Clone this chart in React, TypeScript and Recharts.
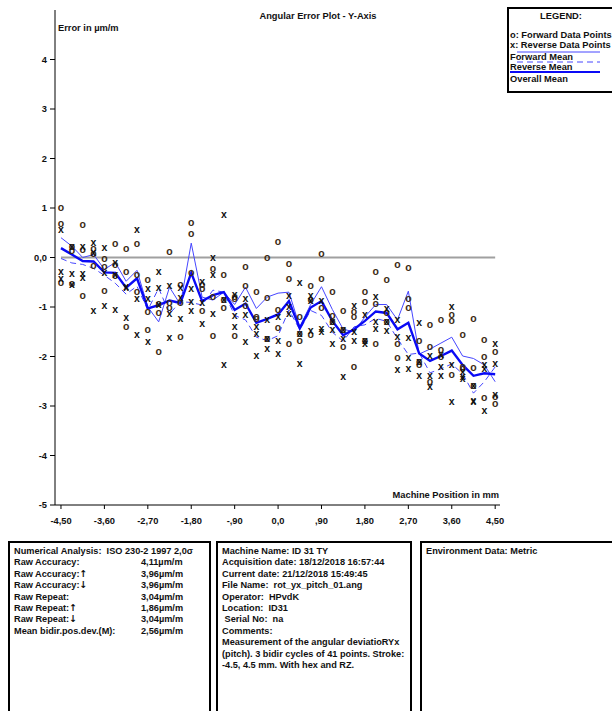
import { ComposedChart, Line, Scatter, XAxis, YAxis, ReferenceLine } from 'recharts';

// machine positions in mm (41 targets)
const positions = [
  -4.5, -4.275, -4.05, -3.825, -3.6, -3.375, -3.15, -2.925, -2.7, -2.475, -2.25,
  -2.025, -1.8, -1.575, -1.35, -1.125, -0.9, -0.675, -0.45, -0.225, 0,
  0.225, 0.45, 0.675, 0.9, 1.125, 1.35, 1.575, 1.8, 2.025, 2.25,
  2.475, 2.7, 2.925, 3.15, 3.375, 3.6, 3.825, 4.05, 4.275, 4.5,
];

// forward runs (o)
const fwdRun1 = [1.02, 0.22, 0.67, 0.18, -0.03, 0.28, 0.18, 0.29, -0.44, -0.92, 0.12, -0.55, 0.70, -0.55, -0.23, -0.35, -0.78, -0.18, -0.69, 0.00, 0.32, -0.12, -1.20, -0.56, 0.09, -0.68, -1.08, -1.09, -0.69, -0.29, -0.45, -0.15, -0.20, -1.67, -1.35, -1.26, -1.16, -1.55, -1.23, -1.65, -1.90];
const fwdRun2 = [0.69, 0.15, 0.17, 0.08, -0.18, -0.15, -0.29, -0.35, -1.10, -1.12, -0.90, -0.91, 0.48, -0.62, -0.78, -0.85, -0.82, -0.57, -1.20, -0.81, -1.06, -0.42, -1.53, -0.84, -0.42, -1.17, -1.45, -1.19, -0.88, -0.93, -1.12, -1.73, -0.82, -2.10, -1.80, -1.86, -1.27, -2.20, -2.22, -2.00, -2.80];
const fwdRun3 = [-0.50, -0.52, -0.76, -0.17, -0.67, -0.36, -1.40, -0.69, -1.46, -1.90, -1.00, -1.60, -0.31, -1.08, -1.57, -1.00, -1.57, -0.96, -1.24, -1.63, -1.42, -1.73, -1.67, -1.55, -1.00, -1.30, -1.80, -2.20, -1.67, -1.73, -1.30, -2.03, -1.00, -2.17, -2.51, -2.00, -2.37, -2.25, -2.59, -2.83, -2.95];

// reverse runs (x)
const revRun1 = [0.57, 0.22, 0.22, 0.31, 0.21, -0.10, -0.58, 0.57, -0.62, -0.29, -0.57, -0.60, -0.62, -0.49, 0.00, 0.87, -0.74, -0.82, -1.40, -1.25, -1.20, -0.77, -0.50, -0.76, -0.86, -1.30, -1.45, -0.96, -1.15, -0.79, -1.03, -1.25, -1.61, -1.31, -1.97, -1.95, -0.99, -2.31, -2.59, -2.17, -1.74];
const revRun2 = [-0.29, -0.33, -0.33, 0.10, -0.31, -0.35, -0.60, -0.82, -0.83, -0.61, -1.13, -0.80, -0.89, -0.90, -0.35, -0.85, -1.17, -1.16, -1.53, -1.63, -1.67, -0.99, -1.53, -0.86, -1.43, -1.46, -1.63, -1.50, -1.67, -1.30, -1.30, -1.60, -2.02, -2.10, -2.39, -2.20, -2.17, -2.41, -2.88, -2.25, -2.14];
const revRun3 = [-0.42, -0.55, -0.40, -1.08, -0.96, -1.06, -1.21, -1.55, -1.69, -0.94, -1.61, -1.23, -1.07, -1.33, -1.13, -2.17, -1.40, -1.70, -1.98, -1.83, -1.94, -1.13, -2.14, -1.48, -1.50, -1.73, -2.41, -1.68, -1.73, -1.43, -1.48, -2.26, -2.24, -2.39, -2.61, -2.39, -2.91, -2.45, -2.90, -3.10, -2.76];

// mean lines as plotted
const forwardMean = [0.40, 0.23, 0.00, 0.06, -0.24, -0.10, -0.48, -0.26, -1.00, -1.30, -0.60, -0.95, 0.29, -0.80, -0.86, -0.70, -0.95, -0.60, -1.03, -0.80, -0.72, -0.70, -1.40, -0.95, -0.59, -1.05, -1.45, -1.50, -1.20, -0.95, -0.95, -1.26, -0.68, -1.95, -1.85, -1.73, -1.61, -1.99, -2.04, -2.17, -2.51];
const reverseMean = [-0.02, -0.11, -0.14, -0.22, -0.36, -0.52, -0.74, -0.58, -1.06, -0.62, -1.14, -0.89, -0.91, -0.96, -0.66, -0.70, -1.17, -1.26, -1.61, -1.68, -1.58, -1.06, -1.46, -1.07, -1.17, -1.51, -1.69, -1.40, -1.36, -1.23, -1.29, -1.64, -1.96, -1.93, -2.33, -2.25, -2.15, -2.35, -2.74, -2.51, -2.21];
const overallMean = [0.19, 0.06, -0.07, -0.08, -0.30, -0.31, -0.61, -0.42, -1.03, -0.96, -0.87, -0.92, -0.31, -0.88, -0.76, -0.70, -1.06, -0.93, -1.32, -1.24, -1.15, -0.88, -1.43, -1.01, -0.88, -1.28, -1.57, -1.45, -1.28, -1.09, -1.12, -1.45, -1.32, -1.94, -2.09, -1.99, -1.88, -2.17, -2.39, -2.34, -2.36];

const xTicks = [-4.5, -3.6, -2.7, -1.8, -0.9, 0, 0.9, 1.8, 2.7, 3.6, 4.5];
const xTickLabels = ['-4,50', '-3,60', '-2,70', '-1,80', '-,90', '0,0', ',90', '1,80', '2,70', '3,60', '4,50'];
const yTicks = [-5, -4, -3, -2, -1, 0, 1, 2, 3, 4];

const analysisRows = [
  ['Raw Accuracy:', '', '4,11µm/m'],
  ['Raw Accuracy:', '↑', '3,96µm/m'],
  ['Raw Accuracy:', '↓', '3,96µm/m'],
  ['Raw Repeat:', '', '3,04µm/m'],
  ['Raw Repeat:', '↑', '1,86µm/m'],
  ['Raw Repeat:', '↓', '3,04µm/m'],
  ['Mean bidir.pos.dev.(M):', '', '2,56µm/m'],
];

const machineRows = [
  'Machine Name: ID 31 TY',
  'Acquisition date: 18/12/2018 16:57:44',
  'Current date: 21/12/2018 15:49:45',
  'File Name:  rot_yx_pitch_01.ang',
  'Operator:  HPvdK',
  'Location:  ID31',
  ' Serial No:  na',
  'Comments:',
  'Measurement of the angular deviatioRYx',
  '(pitch). 3 bidir cycles of 41 points. Stroke:',
  '-4.5, 4.5 mm. With hex and RZ.',
];

const FONT = '"Liberation Sans", Arial, sans-serif';
const BLUE = '#0a0af5';
const THIN = '#4646ff';
const TXT = 9.3;

const lineRows = positions.map((x, i) => ({
  x,
  fwd: forwardMean[i],
  rev: reverseMean[i],
  all: overallMean[i],
}));

const toPoints = (runs: number[][]) =>
  runs.flatMap((run) => run.map((y, i) => ({ x: positions[i], y })));

const fwdPoints = toPoints([fwdRun1, fwdRun2, fwdRun3]);
const revPoints = toPoints([revRun1, revRun2, revRun3]);

const glyph = (ch: string, color: string) => (props: any) => (
  <text
    x={props.cx}
    y={props.cy + 3.5}
    textAnchor="middle"
    fontSize={10.5}
    fontWeight="bold"
    fontFamily={FONT}
    fill={color}
  >
    {ch}
  </text>
);

const boxStyle: React.CSSProperties = {
  position: 'absolute',
  top: 541,
  height: 190,
  border: '2px solid #000',
  boxSizing: 'border-box',
  fontFamily: FONT,
  fontWeight: 'bold',
  fontSize: 9.2,
  lineHeight: '11.4px',
  color: '#111',
  padding: '3px 4px',
  whiteSpace: 'pre',
};

const rowStyle: React.CSSProperties = { height: 11.4, overflow: 'visible' };
const arrowStyle: React.CSSProperties = { fontFamily: '"DejaVu Sans", sans-serif', fontSize: 9.5, lineHeight: '10px' };

export default function App() {
  return (
    <div style={{ position: 'absolute', left: 0, top: 0, width: 612, height: 711, overflow: 'hidden', background: '#fff' }}>
      <ComposedChart
        width={612}
        height={535}
        data={lineRows}
        margin={{ top: 10, right: 112, bottom: 0, left: 0 }}
      >
        <XAxis
          dataKey="x"
          type="number"
          domain={[-4.624, 4.6]}
          allowDataOverflow
          ticks={xTicks}
          tickFormatter={(v: number) => xTickLabels[xTicks.indexOf(v)] ?? ''}
          height={30}
          tickSize={4}
          tickMargin={8}
          stroke="#000"
          tick={{ fontSize: TXT, fontWeight: 'bold', fill: '#111', fontFamily: FONT }}
        />
        <YAxis
          type="number"
          domain={[-5, 5]}
          allowDataOverflow
          ticks={yTicks}
          tickFormatter={(v: number) => (v === 0 ? '0,0' : String(v))}
          width={55}
          tickSize={5}
          tickMargin={3}
          stroke="#000"
          tick={{ fontSize: TXT, fontWeight: 'bold', fill: '#111', fontFamily: FONT }}
        />
        <ReferenceLine
          segment={[{ x: -4.5, y: 0 }, { x: 4.5, y: 0 }]}
          stroke="#a0a0a0"
          strokeWidth={2}
        />
        <Scatter data={fwdPoints} dataKey="y" shape={glyph('o', '#3b2a14')} isAnimationActive={false} />
        <Scatter data={revPoints} dataKey="y" shape={glyph('x', '#111')} isAnimationActive={false} />
        <Line dataKey="fwd" stroke={THIN} strokeWidth={1} dot={false} isAnimationActive={false} />
        <Line dataKey="rev" stroke={THIN} strokeWidth={1} strokeDasharray="6 4" dot={false} isAnimationActive={false} />
        <Line dataKey="all" stroke={BLUE} strokeWidth={2.4} dot={false} isAnimationActive={false} />
      </ComposedChart>

      <svg width={612} height={540} style={{ position: 'absolute', left: 0, top: 0, pointerEvents: 'none' }}>
        <g fontFamily={FONT} fontWeight="bold" fontSize={TXT} fill="#111">
          <text x={318} y={19} textAnchor="middle">Angular Error Plot - Y-Axis</text>
          <text x={58} y={31}>Error in µm/m</text>
          <text x={499} y={498} textAnchor="end">Machine Position in mm</text>
        </g>
        <g>
          <rect x={508} y={8} width={110} height={84} fill="#fff" stroke="#000" strokeWidth={2} />
          <g fontFamily={FONT} fontWeight="bold" fontSize={TXT} fill="#111">
            <text x={561} y={19} textAnchor="middle">LEGEND:</text>
            <text x={510} y={38}>o: Forward Data Points</text>
            <text x={510} y={48}>x: Reverse Data Points</text>
            <text x={510} y={60}>Forward Mean</text>
            <text x={510} y={70}>Reverse Mean</text>
            <text x={510} y={82}>Overall Mean</text>
          </g>
          <line x1={517} y1={52} x2={600} y2={52} stroke={THIN} strokeWidth={1} />
          <line x1={517} y1={62} x2={600} y2={62} stroke={THIN} strokeWidth={1} strokeDasharray="6 4" />
          <line x1={510} y1={72} x2={600} y2={72} stroke={BLUE} strokeWidth={2} />
        </g>
      </svg>

      <div style={{ ...boxStyle, left: 8, width: 203 }}>
        <div style={rowStyle}>Numerical Analysis:  ISO 230-2 1997 2,0σ</div>
        {analysisRows.map(([label, arrow, value]) => (
          <div key={label + arrow} style={{ ...rowStyle, display: 'flex' }}>
            <span style={{ width: 127 }}>
              {label}
              {arrow && <span style={arrowStyle}>{arrow}</span>}
            </span>
            <span>{value}</span>
          </div>
        ))}
      </div>
      <div style={{ ...boxStyle, left: 216, width: 196 }}>
        {machineRows.map((row) => (
          <div key={row} style={rowStyle}>{row}</div>
        ))}
      </div>
      <div style={{ ...boxStyle, left: 420, width: 200 }}>
        <div style={rowStyle}>Environment Data: Metric</div>
      </div>
    </div>
  );
}
